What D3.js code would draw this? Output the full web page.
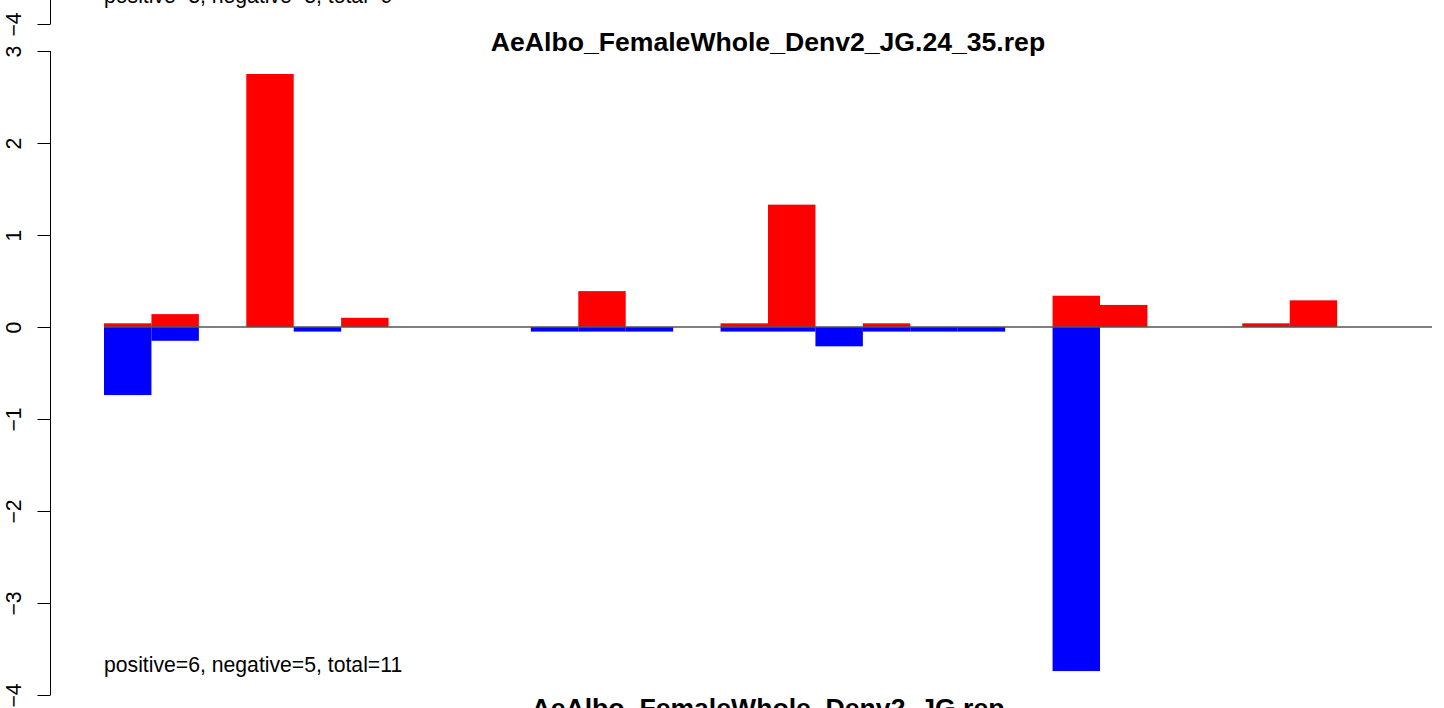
<!DOCTYPE html>
<html>
<head>
<meta charset="utf-8">
<script src="https://cdn.jsdelivr.net/npm/d3@7"></script>
<style>
  body { margin: 0; background: #fff; }
  svg { display: block; font-family: "Liberation Sans", Arial, sans-serif; }
</style>
</head>
<body>
<svg id="chart"></svg>
<script>
// one window of a long stacked page of R barplots
var title = "AeAlbo_FemaleWhole_Denv2_JG.24_35.rep";
var nextTitle = "AeAlbo_FemaleWhole_Denv2_JG.rep";
var countText = "positive=6, negative=5, total=11";
var prevCountText = "positive=3, negative=3, total=6";

var slots = d3.range(28);
// positive part (red) and negative part (blue) per slot, 0 = no bar
var upValues = [0.04, 0.14, 0, 2.75, 0, 0.10, 0, 0, 0, 0, 0.39, 0, 0, 0.04,
                1.33, 0, 0.04, 0, 0, 0, 0.34, 0.24, 0, 0, 0.04, 0.29, 0, 0];
var downValues = [-0.74, -0.15, 0, 0, -0.05, 0, 0, 0, 0, -0.05, -0.05, -0.05, 0, -0.05,
                  -0.05, -0.21, -0.05, -0.05, -0.05, 0, -3.74, 0, 0, 0, 0, 0, 0, 0];
var yTicks = [-4, -3, -2, -1, 0, 1, 2, 3];

var width = 1444, height = 708;
var baseFont = "21.2px", titleFont = "26.6px";
var svg = d3.select("#chart").attr("width", width).attr("height", height);

var xScale = d3.scaleBand().domain(slots).range([104, 1432]).padding(0);
var yScale = d3.scaleLinear().domain([-4, 3]).range([695, 51]);

// bars
svg.append("g").selectAll("rect.up")
  .data(slots.filter(function(i) { return upValues[i] > 0; }))
  .enter().append("rect")
  .attr("x", function(i) { return xScale(i); })
  .attr("width", xScale.bandwidth())
  .attr("y", function(i) { return yScale(upValues[i]); })
  .attr("height", function(i) { return yScale(0) - yScale(upValues[i]); })
  .attr("fill", "#ff0000");

svg.append("g").selectAll("rect.down")
  .data(slots.filter(function(i) { return downValues[i] < 0; }))
  .enter().append("rect")
  .attr("x", function(i) { return xScale(i); })
  .attr("width", xScale.bandwidth())
  .attr("y", yScale(0))
  .attr("height", function(i) { return yScale(downValues[i]) - yScale(0); })
  .attr("fill", "#0000ff");

// zero line on top
svg.append("line")
  .attr("x1", xScale.range()[0]).attr("x2", xScale.range()[1])
  .attr("y1", yScale(0)).attr("y2", yScale(0))
  .attr("stroke", "#555").attr("stroke-width", 1.5);

// R style y axis with rotated labels
function styleAxis(g, top, bottom) {
  g.select(".domain").attr("d", "M0," + bottom + "V" + top).attr("stroke", "#000");
  g.selectAll(".tick line").attr("stroke", "#000");
  g.selectAll(".tick text")
    .attr("x", -30).attr("y", 0).attr("dy", "0")
    .attr("transform", "rotate(-90,-30,0)")
    .attr("text-anchor", "middle")
    .attr("fill", "#000")
    .style("font-size", baseFont)
    .style("font-family", "Liberation Sans, Arial, sans-serif");
}

var yAxis = d3.axisLeft(yScale).tickValues(yTicks).tickSize(13)
  .tickFormat(d3.format("d"));
var gy = svg.append("g").attr("transform", "translate(50.5,0)").call(yAxis);
styleAxis(gy, yScale(3), yScale(-4));

// title and count text
svg.append("text").attr("x", (xScale.range()[0] + xScale.range()[1]) / 2).attr("y", 51)
  .attr("text-anchor", "middle").style("font-weight", "bold").style("font-size", titleFont)
  .text(title);
svg.append("text").attr("x", 104).attr("y", 672)
  .style("font-size", baseFont).text(countText);

// previous panel fragment (bottom of its axis and count text)
var prevScale = yScale.copy().range([24, 24 - 644]);
var gp = svg.append("g").attr("transform", "translate(50.5,0)")
  .call(d3.axisLeft(prevScale).tickValues([-4]).tickSize(13).tickFormat(d3.format("d")));
styleAxis(gp, -10, 24);
svg.append("text").attr("x", 104).attr("y", 3)
  .style("font-size", baseFont).text(prevCountText);

// next panel title fragment
svg.append("text").attr("x", (xScale.range()[0] + xScale.range()[1]) / 2).attr("y", 51 + 666)
  .attr("text-anchor", "middle").style("font-weight", "bold").style("font-size", titleFont)
  .text(nextTitle);
</script>
</body>
</html>
